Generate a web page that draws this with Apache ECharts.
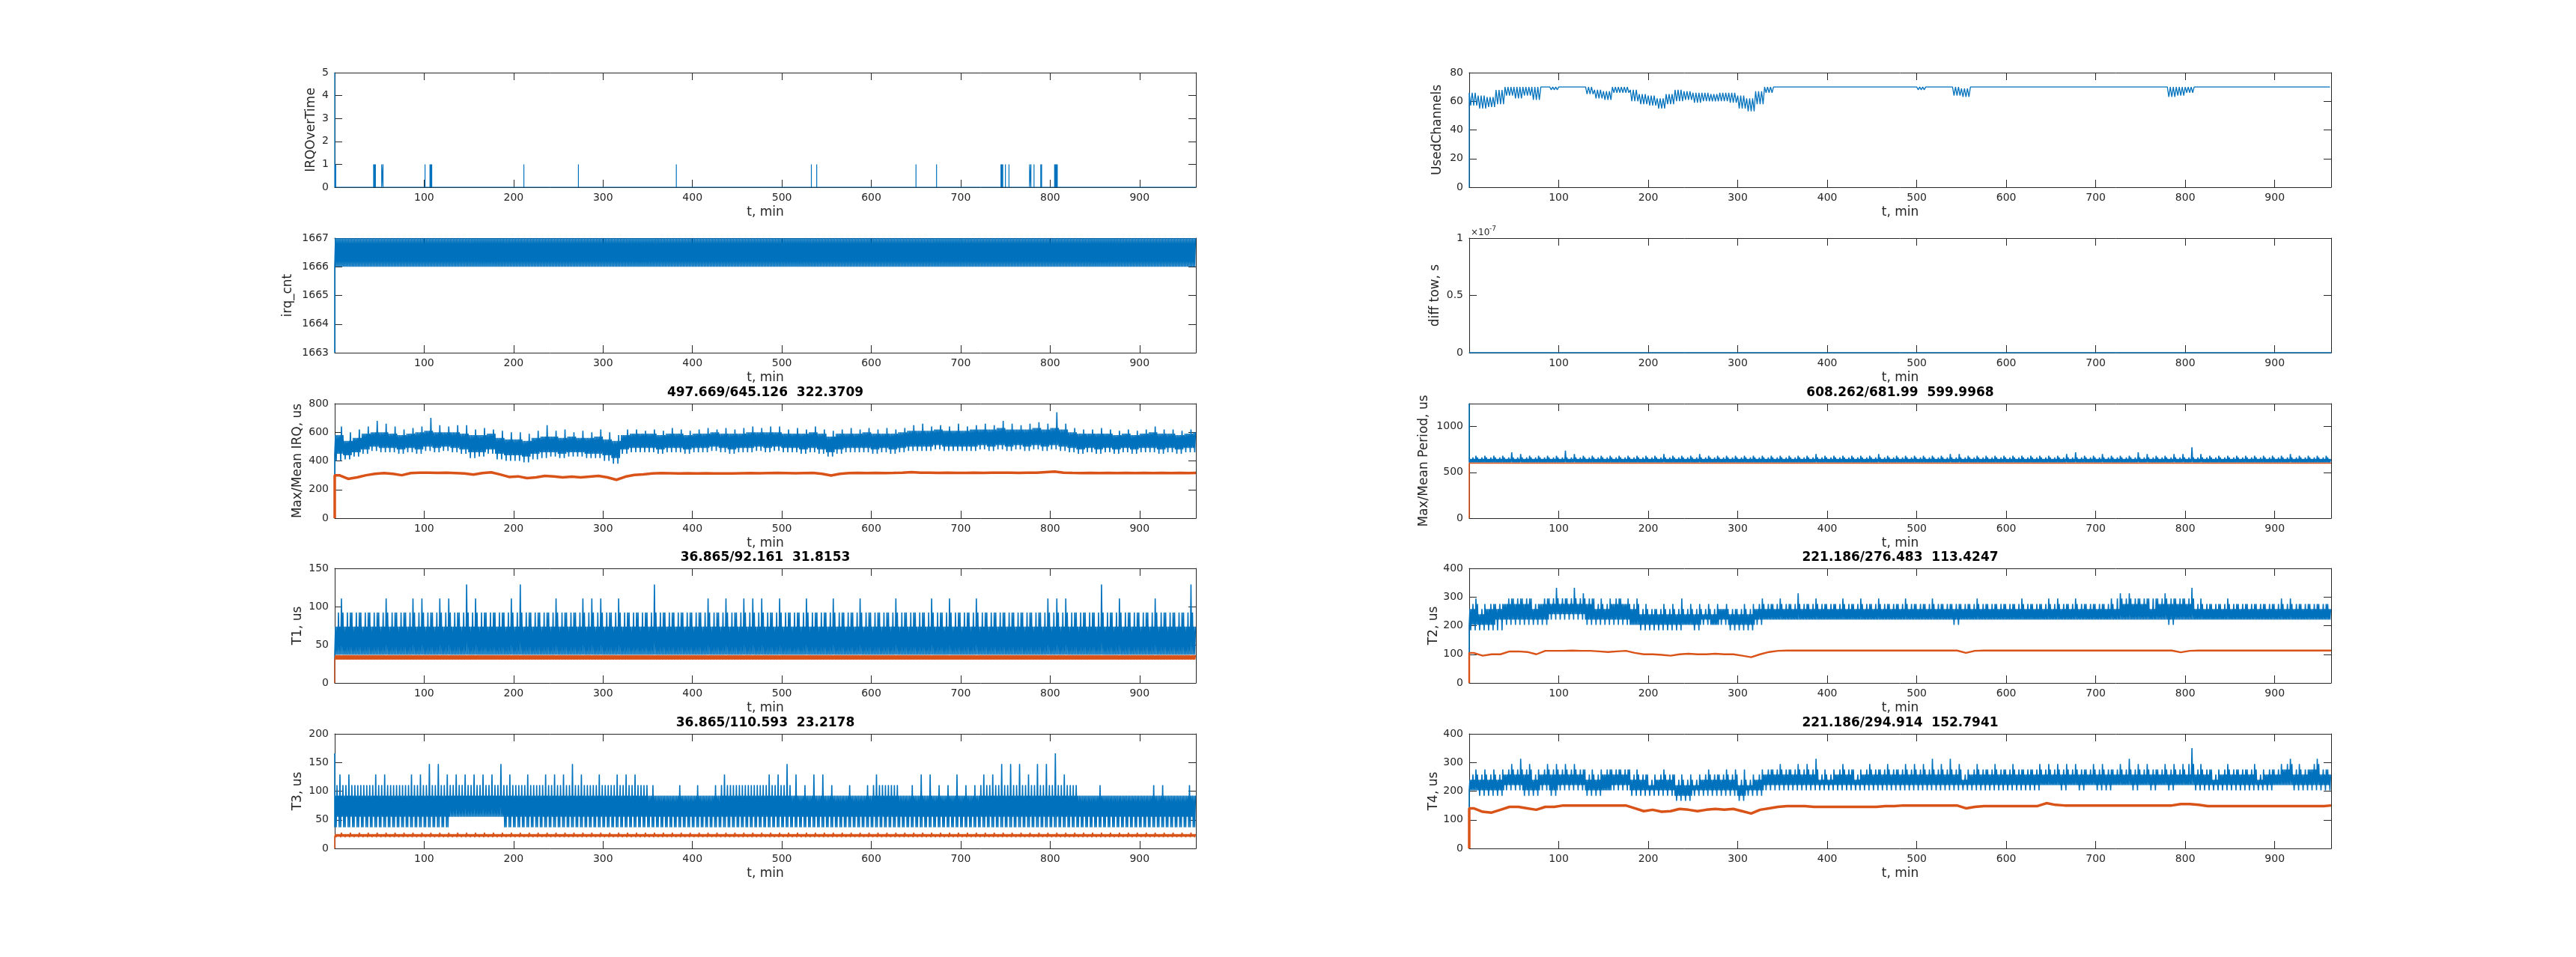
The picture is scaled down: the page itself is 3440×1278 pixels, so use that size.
<!DOCTYPE html>
<html>
<head>
<meta charset="utf-8">
<title>IRQ timing</title>
<script src="https://cdn.jsdelivr.net/npm/echarts/dist/echarts.min.js"></script>
<style>
html,body{margin:0;padding:0;background:#ffffff;}
#chart{width:3440px;height:1278px;}
</style>
</head>
<body>
<div id="chart"></div>
<script>
// ================= DATA =================
const tEnd = 963;   // last sample time, min
const binMin = 10;  // every 97-entry array below = one value per 10-minute bin (0-10, 10-20, ...)

// ---- IRQOverTime: times (min) and heights of the non-zero samples
const irqOverTimeT = [0, 0.4, 1.2, 43.5, 44.5, 45.5, 52.5, 54, 101, 106.5, 107.5, 108.5, 211.5, 272.5, 382, 533, 539, 650, 673, 745, 746, 747, 750, 754, 777, 778.5, 782, 789.5, 790.5, 805, 806, 807, 808];
const irqOverTimeV = [5, 1, 1, 1, 1, 1, 1, 1, 1, 1, 1, 1, 1, 1, 1, 1, 1, 1, 1, 1, 1, 1, 1, 1, 1, 1, 1, 1, 1, 1, 1, 1, 1];

// ---- irq_cnt: first sample, then toggles between the two counts
const irqCntStart = 1663, irqCntLow = 1666, irqCntHigh = 1667;

// ---- Max/Mean IRQ, us
const irqTitle = '497.669/645.126  322.3709';
const irqMaxMin = [
400,410,430,450,470,460,460,450,460,450,
470,460,470,460,450,420,430,450,410,400,
400,390,410,420,430,420,430,430,420,420,
400,380,450,460,460,460,450,460,460,450,
460,460,470,460,450,460,460,470,460,470,
460,460,450,460,450,430,450,460,460,460,
450,460,450,460,470,470,470,480,470,470,
470,470,480,470,480,470,480,470,480,470,
480,470,460,450,460,450,460,450,460,450,
460,460,450,460,450,460,460];
const irqMaxLow = [
450,440,460,480,500,490,490,480,490,480,
500,490,500,490,480,460,460,480,450,440,
440,430,450,460,460,450,460,460,450,450,
440,420,480,490,490,490,480,490,490,480,
490,490,500,490,480,490,490,500,490,500,
490,490,480,490,480,460,480,490,490,490,
480,490,480,490,500,500,500,510,500,500,
500,500,510,500,510,500,510,500,510,500,
510,500,490,480,490,480,490,480,490,480,
490,490,480,490,480,490,490];
const irqMaxHigh = [
580,540,560,590,600,600,590,580,590,600,
610,600,600,600,590,580,580,590,560,550,
550,540,560,570,570,560,570,560,560,570,
550,540,580,590,590,590,580,590,590,580,
590,590,600,590,590,590,600,600,600,600,
590,590,590,600,590,570,590,590,590,600,
590,590,590,600,610,610,610,620,610,610,
610,620,620,620,630,620,620,620,630,620,
630,620,600,590,590,590,590,580,590,580,
590,600,590,590,580,590,600];
const irqMaxPeak = [
640,600,620,640,680,660,640,620,630,640,
700,650,640,650,650,620,630,620,610,600,
600,590,610,650,610,620,600,610,600,620,
600,580,620,620,610,620,610,630,620,610,
620,630,620,630,620,630,640,630,640,640,
620,630,620,640,620,610,620,630,620,630,
620,630,620,630,650,660,640,650,640,660,
640,650,660,650,680,660,650,660,670,660,
740,660,630,620,620,630,620,610,620,610,
620,640,620,620,610,620,640];
const irqMean = [
300,275,285,300,310,315,310,300,315,318,
318,316,318,315,312,305,315,320,305,288,
292,280,285,295,292,285,290,285,290,295,
285,268,290,302,306,312,315,314,313,314,
313,314,313,312,313,314,315,314,315,316,
315,314,315,316,310,298,310,315,316,315,
316,315,316,318,322,318,317,316,317,316,
316,317,316,317,318,317,316,317,318,322,
325,318,316,315,316,315,316,315,316,315,
316,315,316,315,316,315,316];

// ---- T1, us (values are multiples of 18.43 us)
const t1Title = '36.865/92.161  31.8153';
const t1Low = 36.9, t1High = 73.7, t1Sec = 92.2;
const t1Peak = [
110.6,92.2,92.2,92.2,92.2,110.6,92.2,92.2,110.6,110.6,
92.2,110.6,110.6,92.2,129,110.6,92.2,92.2,92.2,110.6,
129,92.2,92.2,92.2,110.6,92.2,92.2,110.6,110.6,110.6,
92.2,110.6,92.2,92.2,92.2,129,92.2,92.2,92.2,92.2,
92.2,110.6,92.2,110.6,92.2,110.6,110.6,110.6,92.2,110.6,
92.2,92.2,110.6,92.2,92.2,110.6,92.2,92.2,110.6,92.2,
92.2,92.2,110.6,92.2,92.2,92.2,110.6,92.2,110.6,92.2,
92.2,110.6,92.2,92.2,92.2,92.2,92.2,92.2,92.2,110.6,
110.6,110.6,92.2,92.2,92.2,129,92.2,110.6,92.2,92.2,
92.2,110.6,92.2,92.2,92.2,129,92.2];
const t1MeanLow = 30.5, t1MeanHigh = 36.5;

// ---- T3, us
const t3Title = '36.865/110.593  23.2178';
const t3Start = 165.9;
const t3Min = [
36.9,36.9,36.9,36.9,36.9,36.9,36.9,36.9,36.9,36.9,
36.9,36.9,36.9,55.3,55.3,55.3,55.3,55.3,55.3,36.9,
36.9,36.9,36.9,36.9,36.9,36.9,36.9,36.9,36.9,36.9,
36.9,36.9,36.9,36.9,36.9,36.9,36.9,36.9,36.9,36.9,
36.9,36.9,36.9,36.9,36.9,36.9,36.9,36.9,36.9,36.9,
36.9,36.9,36.9,36.9,36.9,36.9,36.9,36.9,36.9,36.9,
36.9,36.9,36.9,36.9,36.9,36.9,36.9,36.9,36.9,36.9,
36.9,36.9,36.9,36.9,36.9,36.9,36.9,36.9,36.9,36.9,
36.9,36.9,36.9,36.9,36.9,36.9,36.9,36.9,36.9,36.9,
36.9,36.9,36.9,36.9,36.9,36.9,36.9];
const t3Low = 55.3, t3High = 92.2;
const t3Sec = [
110.6,110.6,110.6,110.6,110.6,110.6,110.6,110.6,110.6,110.6,
110.6,110.6,110.6,110.6,110.6,110.6,110.6,110.6,110.6,110.6,
110.6,110.6,110.6,110.6,110.6,110.6,110.6,110.6,110.6,110.6,
110.6,110.6,110.6,110.6,110.6,92.2,92.2,92.2,92.2,92.2,
92.2,92.2,92.2,110.6,110.6,110.6,110.6,110.6,110.6,110.6,
110.6,92.2,92.2,92.2,92.2,92.2,92.2,92.2,92.2,92.2,
110.6,110.6,110.6,92.2,92.2,92.2,92.2,92.2,92.2,92.2,
92.2,92.2,110.6,110.6,110.6,110.6,110.6,110.6,110.6,110.6,
110.6,110.6,110.6,92.2,92.2,92.2,92.2,92.2,92.2,92.2,
92.2,92.2,92.2,92.2,92.2,92.2,92.2];
const t3Peak = [
129,129,110.6,110.6,129,129,110.6,110.6,129,129,
147.5,147.5,129,129,129,129,129,129,147.5,129,
110.6,129,110.6,129,129,129,147.5,129,110.6,129,
110.6,129,129,129,110.6,110.6,92.2,92.2,110.6,92.2,
110.6,92.2,110.6,129,110.6,110.6,110.6,110.6,129,129,
147.5,129,110.6,129,129,110.6,92.2,110.6,92.2,110.6,
129,110.6,110.6,92.2,110.6,129,129,110.6,110.6,129,
110.6,110.6,129,129,147.5,147.5,147.5,129,147.5,147.5,
165.9,129,110.6,92.2,92.2,110.6,92.2,92.2,92.2,92.2,
92.2,110.6,110.6,92.2,92.2,110.6,110.6];
const t3MeanMin = 19.5, t3MeanLow = 20.5, t3MeanHigh = 25, t3MeanPeak = 27.5;

// ---- UsedChannels
const usedLow = [
57,55,56,58,64,62,64,61,70,68,
70,70,70,65,62,61,66,66,60,58,
57,55,58,60,61,59,60,60,60,59,
55,53,58,66,70,70,70,70,70,70,
70,70,70,70,70,70,70,70,69,69,
68,70,70,70,64,63,70,70,70,70,
70,70,70,70,70,69,70,70,70,70,
70,70,70,70,70,70,70,70,63,64,
66,70,70,70,70,70,70,70,70,70,
70,70,70,70,70,70,70];
const usedHigh = [
66,64,63,68,70,70,70,70,70,70,
70,70,70,70,68,67,70,70,68,65,
64,62,65,68,67,66,66,65,66,66,
64,62,67,70,70,70,70,70,70,70,
70,70,70,70,70,70,70,70,70,70,
70,70,70,70,70,69,70,70,70,70,
70,70,70,70,70,70,70,70,70,70,
70,70,70,70,70,70,70,70,70,70,
70,70,70,70,70,70,70,70,70,70,
70,70,70,70,70,70,70];

// ---- diff tow, s (in units of 1e-7 s)
const diffTowValue = 0;

// ---- Max/Mean Period, us
const periodTitle = '608.262/681.99  599.9968';
const periodStart = 1250, periodLow = 608.3, periodHigh = 645.1, periodSec = 663.5;
const periodPeak = [
682,682,682,682,718,700,682,682,682,682,
737,700,682,682,682,682,682,682,682,682,
682,700,682,682,682,700,682,682,682,682,
682,682,682,682,682,682,682,682,700,682,
682,682,682,682,682,700,682,682,682,682,
682,682,682,700,700,682,682,682,682,682,
682,682,682,682,682,682,700,718,682,682,
700,682,682,682,718,700,682,682,700,700,
774,700,682,682,682,682,682,682,682,682,
682,700,682,682,682,682,682];
const periodMean = 600;

// ---- T2, us
const t2Title = '221.186/276.483  113.4247';
const t2Min = [
184,184,184,184,203,203,203,203,203,221,
221,221,221,203,203,203,203,203,203,184,
184,184,184,184,203,184,203,203,203,184,
184,184,203,221,221,221,221,221,221,221,
221,221,221,221,221,221,221,221,221,221,
221,221,221,221,203,221,221,221,221,221,
221,221,221,221,221,221,221,221,221,221,
221,221,221,221,221,221,221,221,203,221,
221,221,221,221,221,221,221,221,221,221,
221,221,221,221,221,221,221];
const t2Low = [
203,203,203,221,221,221,221,221,221,240,
240,240,240,221,221,221,221,221,203,203,
203,203,203,203,203,203,221,203,221,203,
203,203,221,221,221,221,221,221,221,221,
221,221,221,221,221,221,221,221,221,221,
221,221,221,221,221,221,221,221,221,221,
221,221,221,221,221,221,221,221,221,221,
221,221,221,221,221,221,221,221,221,221,
221,221,221,221,221,221,221,221,221,221,
221,221,221,221,221,221,221];
const t2High = [
258,240,258,258,276,276,276,258,276,276,
276,276,276,276,258,258,276,276,258,240,
240,240,240,240,240,240,240,240,258,240,
240,240,258,258,258,258,258,258,258,258,
258,258,258,258,258,258,258,258,258,258,
258,258,258,258,258,258,258,258,258,258,
258,258,258,258,258,258,258,258,258,258,
258,258,258,276,276,276,258,276,276,276,
276,258,258,258,258,258,258,258,258,258,
258,258,258,258,258,258,258];
const t2Sec = [
276,258,276,276,295,295,295,276,295,295,
295,295,295,295,276,276,295,276,276,258,
258,258,258,258,258,258,258,258,258,258,
258,258,276,276,276,276,276,276,276,276,
276,276,276,276,276,276,276,276,276,276,
276,276,276,276,276,276,276,276,276,276,
276,276,276,276,276,276,276,276,276,276,
276,276,295,295,295,295,295,295,295,295,
295,276,276,276,276,276,276,276,276,276,
276,276,276,276,276,276,276];
const t2Peak = [
295,276,276,276,295,295,295,276,295,332,
295,332,313,295,295,295,295,295,295,276,
258,276,276,295,276,276,276,276,276,258,
276,276,295,276,295,276,313,276,295,276,
276,295,276,295,276,295,276,276,295,276,
276,295,276,276,276,276,295,276,276,276,
276,295,276,276,295,295,276,295,276,276,
276,295,313,313,295,295,295,313,295,295,
332,295,276,276,295,276,276,276,276,276,
295,295,276,276,276,276,276];
const t2Mean = [
105,95,100,100,110,110,108,100,112,112,
112,113,112,112,110,108,110,112,105,100,
100,98,95,100,102,100,100,102,100,100,
95,90,100,108,112,113,113,113,113,113,
113,113,113,113,113,113,113,113,113,113,
113,113,113,113,113,105,112,113,113,113,
113,113,113,113,113,113,113,113,113,113,
113,113,113,113,113,113,113,113,113,107,
112,113,113,113,113,113,113,113,113,113,
113,113,113,113,113,113,113];

// ---- T4, us
const t4Title = '221.186/294.914  152.7941';
const t4Min = [
203,184,184,184,203,203,184,184,203,184,
203,203,203,184,184,203,203,203,184,184,
184,184,184,166,166,184,184,184,184,184,
166,184,184,203,203,203,203,203,203,203,
203,203,203,203,203,203,203,203,203,203,
203,203,203,203,203,203,203,203,203,203,
203,203,203,203,221,221,203,221,203,221,
203,203,221,221,203,221,203,221,203,221,
221,203,203,203,203,203,203,203,203,203,
221,221,203,203,203,203,203];
const t4Low = [
203,203,203,203,221,221,203,203,221,203,
221,221,221,203,203,203,221,221,203,203,
203,203,203,184,184,203,203,203,203,203,
184,203,203,221,221,221,221,221,221,221,
221,221,221,221,221,221,221,221,221,221,
221,221,221,221,221,221,221,221,221,221,
221,221,221,221,221,221,221,221,221,221,
221,221,221,221,221,221,221,221,221,221,
221,221,221,221,221,221,221,221,221,221,
221,221,221,221,221,221,221];
const t4High = [
240,240,240,240,258,258,258,240,258,258,
258,258,258,240,240,258,258,258,240,240,
221,240,240,221,221,221,240,240,240,240,
221,221,240,258,258,258,258,258,258,240,
240,258,258,240,258,258,258,258,258,258,
258,258,258,258,258,240,258,258,258,258,
258,258,258,258,258,258,258,258,258,258,
258,258,258,258,258,258,258,258,258,258,
258,258,258,240,258,258,258,258,240,258,
258,276,258,258,276,258,258];
const t4Sec = [
258,258,258,258,276,276,276,258,276,276,
276,276,276,258,258,276,276,276,258,258,
240,258,258,240,240,240,258,258,258,258,
240,240,258,276,276,276,276,276,276,258,
258,276,276,258,276,276,276,276,276,276,
276,276,276,276,276,258,276,276,276,276,
276,276,276,276,276,276,276,276,276,276,
276,276,276,276,276,276,276,276,276,276,
295,276,276,258,276,276,276,276,258,276,
276,295,276,276,295,276,276];
const t4Peak = [
276,276,276,276,295,313,295,276,295,295,
295,295,276,276,276,276,276,276,276,258,
258,276,258,258,258,258,276,258,276,276,
276,258,276,276,295,276,295,295,313,276,
276,295,276,276,295,276,295,276,295,295,
295,313,295,313,295,276,295,276,295,276,
295,276,276,295,295,295,295,295,276,295,
295,276,295,313,295,295,276,295,295,295,
350,295,276,276,295,276,276,295,276,276,
295,313,295,276,313,276,295];
const t4Mean = [
140,128,125,135,145,145,140,135,145,145,
150,150,150,150,150,150,150,150,140,130,
135,128,130,138,135,130,135,138,135,138,
130,122,135,140,145,148,148,148,145,145,
145,145,145,145,145,145,148,148,150,150,
150,150,150,150,150,140,145,148,148,148,
148,148,148,148,158,152,150,150,150,150,
150,150,150,150,150,150,150,150,150,155,
155,152,148,148,148,148,148,148,148,148,
148,148,148,148,148,148,150];

// ================= BUILDERS =================
const BLUE = '#0072BD', ORANGE = '#D95319', AX = '#262626';
const FONT = 'DejaVu Sans';
const DENSE_W = 1.6;   // stroke width of dense noisy traces

function at(a, i) { return Array.isArray(a) ? a[i] : a; }
function pick(s, k, i) {
  if (s[k] !== undefined) return at(s[k], i);
  if (k === 'min') return at(s.low, i);
  if (k === 'peak') return pick(s, 'sec', i);
  return at(s.high, i);
}
// order in which a dense noisy trace visits its levels inside each bin
const bandOrder = ['low','high','min','high','low','sec','low','high','min','peak','low','sec'];
const deepOrder = ['min','high','min','sec','low','high','min','peak','min','high','low','sec'];
const chanOrder = ['high','low','high','low','high','low'];
function bandData(s, order) {
  order = order || bandOrder;
  const d = [[0, s.start]];
  const nb = Math.ceil(tEnd / binMin);
  for (let i = 0; i < nb; i++) {
    for (let j = 0; j < order.length; j++) {
      const t = i * binMin + j * binMin / order.length;
      if (t > tEnd) break;
      d.push([t, pick(s, order[j], i)]);
    }
  }
  return d;
}
function meanData(arr, start) {
  const d = [[0, start], [0, arr[0]]];
  arr.forEach((v, i) => d.push([Math.min(i * binMin + binMin / 2, tEnd), v]));
  return d;
}
function flatData(v, start) { return [[0, start], [0, v], [tEnd, v]]; }
function spikeData(ts, vs) {
  const d = [[0, 0]];
  ts.forEach((t, i) => { d.push([t, 0], [t, vs[i]], [t, 0]); });
  d.push([tEnd, 0]);
  return d;
}
function line(data, color, width) {
  return { type: 'line', data: data, symbol: 'none', showSymbol: false, silent: true,
           animation: false, clip: true, lineStyle: { color: color, width: width }, itemStyle: { color: color } };
}

const panels = [
  { col: 0, row: 0, yName: 'IRQOverTime', yMin: 0, yMax: 5, yInt: 1, nameGap: 23,
    series: [line(spikeData(irqOverTimeT, irqOverTimeV), BLUE, 1.2)] },
  { col: 0, row: 1, yName: 'irq_cnt', yMin: 1663, yMax: 1667, yInt: 1, nameGap: 54,
    series: [line(bandData({ start: irqCntStart, low: irqCntLow, high: irqCntHigh }), BLUE, DENSE_W)] },
  { col: 0, row: 2, yName: 'Max/Mean IRQ, us', yMin: 0, yMax: 800, yInt: 200, nameGap: 41, title: irqTitle,
    series: [line(bandData({ start: 0, min: irqMaxMin, low: irqMaxLow, high: irqMaxHigh, peak: irqMaxPeak }), BLUE, DENSE_W),
             line(meanData(irqMean, 0), ORANGE, 3.5)] },
  { col: 0, row: 3, yName: 'T1, us', yMin: 0, yMax: 150, yInt: 50, nameGap: 41, title: t1Title,
    series: [line(bandData({ start: 0, low: t1Low, high: t1High, sec: t1Sec, peak: t1Peak }), BLUE, DENSE_W),
             line(bandData({ start: 0, low: t1MeanLow, high: t1MeanHigh }), ORANGE, DENSE_W)] },
  { col: 0, row: 4, yName: 'T3, us', yMin: 0, yMax: 200, yInt: 50, nameGap: 41, title: t3Title,
    series: [line(bandData({ start: t3Start, min: t3Min, low: t3Low, high: t3High, sec: t3Sec, peak: t3Peak }, deepOrder), BLUE, DENSE_W),
             line(bandData({ start: 0, min: t3MeanMin, low: t3MeanLow, high: t3MeanHigh, peak: t3MeanPeak }), ORANGE, DENSE_W)] },
  { col: 1, row: 0, yName: 'UsedChannels', yMin: 0, yMax: 80, yInt: 20, nameGap: 34,
    series: [line(bandData({ start: 0, low: usedLow, high: usedHigh }, chanOrder), BLUE, 1.3)] },
  { col: 1, row: 1, yName: 'diff tow, s', yMin: 0, yMax: 1, yInt: 0.5, nameGap: 37, multiplier: true,
    series: [line(flatData(diffTowValue, diffTowValue), BLUE, 1.5)] },
  { col: 1, row: 2, yName: 'Max/Mean Period, us', yMin: 0, yMax: 1250, yInt: 500, nameGap: 52, title: periodTitle,
    series: [line(bandData({ start: periodStart, low: periodLow, high: periodHigh, sec: periodSec, peak: periodPeak }), BLUE, DENSE_W),
             line(flatData(periodMean, 0), ORANGE, 1.5)] },
  { col: 1, row: 3, yName: 'T2, us', yMin: 0, yMax: 400, yInt: 100, nameGap: 39, title: t2Title,
    series: [line(bandData({ start: 0, min: t2Min, low: t2Low, high: t2High, sec: t2Sec, peak: t2Peak }), BLUE, DENSE_W),
             line(meanData(t2Mean, 0), ORANGE, 2.4)] },
  { col: 1, row: 4, yName: 'T4, us', yMin: 0, yMax: 400, yInt: 100, nameGap: 39, title: t4Title,
    series: [line(bandData({ start: 0, min: t4Min, low: t4Low, high: t4High, sec: t4Sec, peak: t4Peak }), BLUE, DENSE_W),
             line(meanData(t4Mean, 0), ORANGE, 3.5)] }
];

// ================= LAYOUT =================
const colLeft = [447, 1962], colWidth = [1150, 1151];
const rowTop = [97, 318, 539, 759, 980], rowHeight = 153;

const grids = [], xAxes = [], yAxes = [], series = [], graphics = [];
const tickStyle = { show: true, inside: true, length: 10, lineStyle: { color: AX, width: 1 } };
const lineStyleAx = { show: true, onZero: false, lineStyle: { color: AX, width: 1 } };
const labelFont = { color: AX, fontSize: 14, fontFamily: FONT };
const nameFont = { color: AX, fontSize: 17, fontFamily: FONT };

panels.forEach((p, g) => {
  grids.push({ left: colLeft[p.col], top: rowTop[p.row], width: colWidth[p.col], height: rowHeight, containLabel: false });
  xAxes.push({ type: 'value', gridIndex: g, position: 'bottom', min: 0, max: tEnd, interval: 100,
    name: 't, min', nameLocation: 'middle', nameGap: 25, nameTextStyle: nameFont,
    axisLine: lineStyleAx, axisTick: tickStyle, splitLine: { show: false },
    axisLabel: Object.assign({ margin: 7, formatter: v => (v > 0 && Math.abs(v % 100) < 1e-6) ? String(v) : '' }, labelFont) });
  xAxes.push({ type: 'value', gridIndex: g, position: 'top', min: 0, max: tEnd, interval: 100,
    axisLine: lineStyleAx, axisTick: tickStyle, axisLabel: { show: false }, splitLine: { show: false } });
  const yFmt = v => {
    const q = (v - p.yMin) / p.yInt;
    return Math.abs(q - Math.round(q)) < 1e-6 ? String(Math.round(v * 1000) / 1000) : '';
  };
  yAxes.push({ type: 'value', gridIndex: g, position: 'left', min: p.yMin, max: p.yMax, interval: p.yInt,
    name: p.yName, nameLocation: 'middle', nameGap: p.nameGap, nameTextStyle: nameFont,
    axisLine: lineStyleAx, axisTick: tickStyle, splitLine: { show: false },
    axisLabel: Object.assign({ margin: 8, formatter: yFmt }, labelFont) });
  yAxes.push({ type: 'value', gridIndex: g, position: 'right', min: p.yMin, max: p.yMax, interval: p.yInt,
    axisLine: lineStyleAx, axisTick: tickStyle, axisLabel: { show: false }, splitLine: { show: false } });
  p.series.forEach(s => { s.xAxisIndex = 2 * g; s.yAxisIndex = 2 * g; series.push(s); });
  if (p.title) {
    graphics.push({ type: 'text', x: colLeft[p.col] + colWidth[p.col] / 2, y: rowTop[p.row] - 14, silent: true,
      style: { text: p.title, font: 'bold 17px "DejaVu Sans"', fill: '#000000', align: 'center', verticalAlign: 'middle',
               textAlign: 'center', textVerticalAlign: 'middle' } });
  }
  if (p.multiplier) {
    graphics.push({ type: 'text', x: colLeft[p.col] + 2, y: rowTop[p.row] - 7, silent: true,
      style: { text: '\u00d710', font: '12px "DejaVu Sans"', fill: AX, align: 'left', verticalAlign: 'middle',
               textAlign: 'left', textVerticalAlign: 'middle' } });
    graphics.push({ type: 'text', x: colLeft[p.col] + 27, y: rowTop[p.row] - 12, silent: true,
      style: { text: '-7', font: '9px "DejaVu Sans"', fill: AX, align: 'left', verticalAlign: 'middle',
               textAlign: 'left', textVerticalAlign: 'middle' } });
  }
});

const chart = echarts.init(document.getElementById('chart'), null, { renderer: 'canvas' });
chart.setOption({
  animation: false,
  backgroundColor: '#ffffff',
  textStyle: { fontFamily: FONT },
  grid: grids,
  xAxis: xAxes,
  yAxis: yAxes,
  series: series,
  graphic: graphics
});
</script>
</body>
</html>
